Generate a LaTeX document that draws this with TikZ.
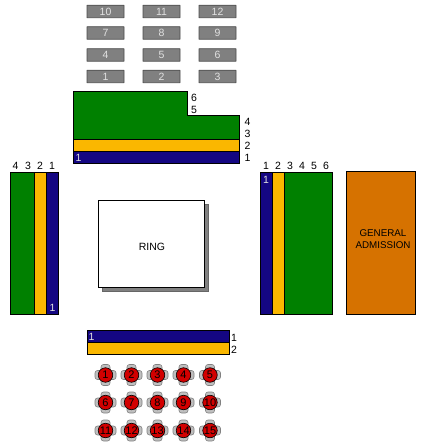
\documentclass[tikz,border=0pt]{standalone}
\usepackage{fontspec}
\setmainfont{Liberation Sans}
\definecolor{sgreen}{RGB}{0,128,0}
\definecolor{syellow}{RGB}{250,183,0}
\definecolor{sblue}{RGB}{20,6,130}
\definecolor{sorange}{RGB}{214,114,0}
\definecolor{sgrey}{RGB}{128,128,128}
\definecolor{sred}{RGB}{210,0,0}
\definecolor{slight}{RGB}{225,225,225}
\tikzset{
  sec/.style={draw=black,line width=0.9pt},
  lab/.style={inner sep=0pt,font=\fontsize{10.5}{11}\selectfont,text=black},
  inlab/.style={lab,text=slight},
  gatebox/.style={draw=black!70,line width=0.8pt,fill=sgrey,rounded corners=0.3pt,minimum width=37pt,minimum height=12.5pt,inner sep=0pt,text=slight,font=\fontsize{10.5}{11}\selectfont},
  tbl/.style={circle,draw=black,line width=0.6pt,fill=sred,minimum size=14.5pt,inner sep=0pt,text=black,font=\fontsize{11}{11}\selectfont},
  chair/.style={draw=black!50,line width=0.6pt,fill=black!25,rounded corners=2.5pt}
}
\newcommand{\seatset}[3]{%
  \draw[chair] (#1-10.5,#2-4.5) rectangle (#1+10.5,#2+4.5);
  \draw[chair] (#1-4.5,#2-10.5) rectangle (#1+4.5,#2+10.5);
  \node[tbl] (t#3) at (#1,#2) {#3};
}
\begin{document}
\begin{tikzpicture}[x=1pt,y=-1pt]
\useasboundingbox (0,0) rectangle (426,446);
% gate boxes
\foreach \n/\cx/\cy in {10/105.5/11.5,11/161.5/11.5,12/217.5/11.5,7/105.5/33,8/161.5/33,9/217.5/33,4/105.5/55,5/161.5/55,6/217.5/55,1/105.5/76.5,2/161.5/76.5,3/217.5/76.5}
  \node[gatebox] (g\n) at (\cx,\cy) {\n};
% top block
\draw[sec,fill=sgreen] (73.5,91.5) -- (187.5,91.5) -- (187.5,115.5) -- (239.5,115.5) -- (239.5,139.5) -- (73.5,139.5) -- cycle;
\draw[sec,fill=syellow] (73.5,139.5) rectangle (239.5,151.5);
\draw[sec,fill=sblue] (73.5,151.5) rectangle (239.5,163.5);
\node[inlab] (ti) at (78.5,157.5) {1};
\node[lab] (t6) at (194,97.5) {6};
\node[lab] (t5) at (194,109.5) {5};
\node[lab] (t4) at (247.5,121.5) {4};
\node[lab] (t3) at (247.5,133.5) {3};
\node[lab] (t2) at (247.5,145.5) {2};
\node[lab] (t1) at (247.5,157.5) {1};
% left block
\draw[sec,fill=sgreen] (10.5,172.5) rectangle (34.5,314.5);
\draw[sec,fill=syellow] (34.5,172.5) rectangle (46.5,314.5);
\draw[sec,fill=sblue] (46.5,172.5) rectangle (58.5,314.5);
\node[inlab] (li) at (52.5,308) {1};
\node[lab] (l4) at (15.5,165.5) {4};
\node[lab] (l3) at (28,165.5) {3};
\node[lab] (l2) at (40,165.5) {2};
\node[lab] (l1) at (52,165.5) {1};
% ring
\draw[draw=black!60,line width=0.9pt,fill=sgrey] (102.5,204.5) rectangle (208.5,291.5);
\draw[draw=black,line width=0.9pt,fill=white] (98.5,200.5) rectangle (204.5,287.5);
\node[lab] (ring) at (152,246.5) {RING};
% right block
\draw[sec,fill=sblue] (260.5,172.5) rectangle (272.5,314.5);
\draw[sec,fill=syellow] (272.5,172.5) rectangle (284.5,314.5);
\draw[sec,fill=sgreen] (284.5,172.5) rectangle (332.5,314.5);
\node[inlab] (ri) at (266,179.5) {1};
\foreach \n/\cx in {1/266,2/278,3/290,4/302,5/314,6/326}
  \node[lab] (r\n) at (\cx,165.5) {\n};
% general admission
\draw[sec,fill=sorange] (346.5,171.5) rectangle (415.5,314.5);
\node[lab,align=center,font=\fontsize{9.8}{11.8}\selectfont] (ga) at (383,239) {GENERAL\\ADMISSION};
% bottom block
\draw[sec,fill=sblue] (87.5,330.5) rectangle (229.5,342.5);
\draw[sec,fill=syellow] (87.5,342.5) rectangle (229.5,354.5);
\node[inlab] (bi) at (91.5,336.5) {1};
\node[lab] (b1) at (234,338) {1};
\node[lab] (b2) at (234,349.5) {2};
% tables
\seatset{105.5}{375}{1}
\seatset{131.5}{375}{2}
\seatset{157.5}{375}{3}
\seatset{183.5}{375}{4}
\seatset{210}{375}{5}
\seatset{105.5}{402.5}{6}
\seatset{131.5}{402.5}{7}
\seatset{157.5}{402.5}{8}
\seatset{183.5}{402.5}{9}
\seatset{210}{402.5}{10}
\seatset{105.5}{430.5}{11}
\seatset{131.5}{430.5}{12}
\seatset{157.5}{430.5}{13}
\seatset{183.5}{430.5}{14}
\seatset{210}{430.5}{15}
\end{tikzpicture}
\end{document}
